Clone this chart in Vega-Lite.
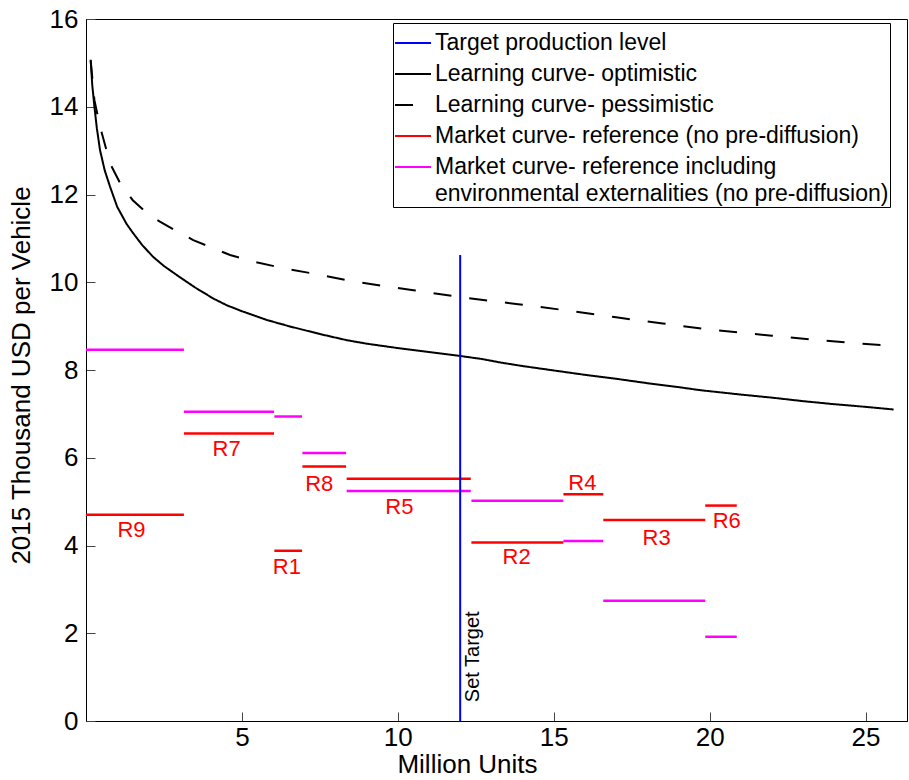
{
  "$schema": "https://vega.github.io/schema/vega-lite/v6.json",
  "width": 821,
  "height": 702,
  "autosize": {"type": "none"},
  "padding": {"left": 86, "top": 19, "right": 2, "bottom": 59},
  "background": "white",
  "config": {
    "font": "Liberation Sans",
    "view": {"stroke": "#000", "strokeWidth": 1},
    "axis": {
      "grid": false,
      "domainColor": "#000",
      "tickColor": "#444",
      "labelColor": "#000",
      "titleColor": "#000",
      "labelFontSize": 26,
      "titleFontSize": 26,
      "titleFontWeight": "normal",
      "tickSize": -9,
      "labelFlush": false
    }
  },
  "datasets": {
    "curves": [
      {"series": "Learning curve- optimistic", "x": 0.15, "y": 15.07},
      {"series": "Learning curve- optimistic", "x": 0.2, "y": 14.5},
      {"series": "Learning curve- optimistic", "x": 0.27, "y": 14.0},
      {"series": "Learning curve- optimistic", "x": 0.35, "y": 13.5},
      {"series": "Learning curve- optimistic", "x": 0.45, "y": 13.01},
      {"series": "Learning curve- optimistic", "x": 0.6, "y": 12.55},
      {"series": "Learning curve- optimistic", "x": 0.77, "y": 12.18},
      {"series": "Learning curve- optimistic", "x": 1.0, "y": 11.72},
      {"series": "Learning curve- optimistic", "x": 1.3, "y": 11.33},
      {"series": "Learning curve- optimistic", "x": 1.51, "y": 11.12},
      {"series": "Learning curve- optimistic", "x": 1.8, "y": 10.85},
      {"series": "Learning curve- optimistic", "x": 2.15, "y": 10.58},
      {"series": "Learning curve- optimistic", "x": 2.5, "y": 10.37},
      {"series": "Learning curve- optimistic", "x": 3.0, "y": 10.12},
      {"series": "Learning curve- optimistic", "x": 3.5, "y": 9.88},
      {"series": "Learning curve- optimistic", "x": 4.08, "y": 9.63},
      {"series": "Learning curve- optimistic", "x": 4.5, "y": 9.48},
      {"series": "Learning curve- optimistic", "x": 5.0, "y": 9.34},
      {"series": "Learning curve- optimistic", "x": 5.8, "y": 9.14},
      {"series": "Learning curve- optimistic", "x": 6.5, "y": 9.0},
      {"series": "Learning curve- optimistic", "x": 7.0, "y": 8.91},
      {"series": "Learning curve- optimistic", "x": 7.5, "y": 8.82},
      {"series": "Learning curve- optimistic", "x": 8.36, "y": 8.68},
      {"series": "Learning curve- optimistic", "x": 9.0, "y": 8.6},
      {"series": "Learning curve- optimistic", "x": 10.0, "y": 8.5},
      {"series": "Learning curve- optimistic", "x": 11.0, "y": 8.41},
      {"series": "Learning curve- optimistic", "x": 12.0, "y": 8.32},
      {"series": "Learning curve- optimistic", "x": 12.7, "y": 8.25},
      {"series": "Learning curve- optimistic", "x": 13.3, "y": 8.17},
      {"series": "Learning curve- optimistic", "x": 14.0, "y": 8.09},
      {"series": "Learning curve- optimistic", "x": 15.0, "y": 7.99},
      {"series": "Learning curve- optimistic", "x": 16.0, "y": 7.89},
      {"series": "Learning curve- optimistic", "x": 17.0, "y": 7.8},
      {"series": "Learning curve- optimistic", "x": 18.0, "y": 7.7},
      {"series": "Learning curve- optimistic", "x": 19.0, "y": 7.61},
      {"series": "Learning curve- optimistic", "x": 19.7, "y": 7.54},
      {"series": "Learning curve- optimistic", "x": 21.0, "y": 7.44},
      {"series": "Learning curve- optimistic", "x": 22.0, "y": 7.37},
      {"series": "Learning curve- optimistic", "x": 23.0, "y": 7.29},
      {"series": "Learning curve- optimistic", "x": 24.0, "y": 7.22},
      {"series": "Learning curve- optimistic", "x": 25.0, "y": 7.16},
      {"series": "Learning curve- optimistic", "x": 25.9, "y": 7.1},
      {"series": "Learning curve- pessimistic", "x": 0.15, "y": 15.05},
      {"series": "Learning curve- pessimistic", "x": 0.27, "y": 14.15},
      {"series": "Learning curve- pessimistic", "x": 0.45, "y": 13.55},
      {"series": "Learning curve- pessimistic", "x": 0.77, "y": 12.71},
      {"series": "Learning curve- pessimistic", "x": 1.1, "y": 12.25},
      {"series": "Learning curve- pessimistic", "x": 1.5, "y": 11.87},
      {"series": "Learning curve- pessimistic", "x": 2.0, "y": 11.55},
      {"series": "Learning curve- pessimistic", "x": 2.37, "y": 11.38},
      {"series": "Learning curve- pessimistic", "x": 3.0, "y": 11.13},
      {"series": "Learning curve- pessimistic", "x": 3.44, "y": 10.96},
      {"series": "Learning curve- pessimistic", "x": 4.0, "y": 10.8},
      {"series": "Learning curve- pessimistic", "x": 4.62, "y": 10.62},
      {"series": "Learning curve- pessimistic", "x": 5.5, "y": 10.45},
      {"series": "Learning curve- pessimistic", "x": 6.33, "y": 10.32},
      {"series": "Learning curve- pessimistic", "x": 7.5, "y": 10.17},
      {"series": "Learning curve- pessimistic", "x": 8.5, "y": 10.03},
      {"series": "Learning curve- pessimistic", "x": 9.5, "y": 9.92},
      {"series": "Learning curve- pessimistic", "x": 10.5, "y": 9.82},
      {"series": "Learning curve- pessimistic", "x": 12.0, "y": 9.66},
      {"series": "Learning curve- pessimistic", "x": 13.86, "y": 9.5},
      {"series": "Learning curve- pessimistic", "x": 15.5, "y": 9.35},
      {"series": "Learning curve- pessimistic", "x": 17.0, "y": 9.2},
      {"series": "Learning curve- pessimistic", "x": 18.5, "y": 9.06},
      {"series": "Learning curve- pessimistic", "x": 19.77, "y": 8.94},
      {"series": "Learning curve- pessimistic", "x": 21.0, "y": 8.85},
      {"series": "Learning curve- pessimistic", "x": 22.0, "y": 8.78},
      {"series": "Learning curve- pessimistic", "x": 23.22, "y": 8.7},
      {"series": "Learning curve- pessimistic", "x": 24.5, "y": 8.62},
      {"series": "Learning curve- pessimistic", "x": 25.9, "y": 8.55}
    ],
    "segments": [
      {"region": "R9", "series": "Market curve- reference (no pre-diffusion)", "x": 0, "x2": 3.14, "y": 4.7},
      {"region": "R9", "series": "Market curve- reference including environmental externalities (no pre-diffusion)", "x": 0, "x2": 3.14, "y": 8.46},
      {"region": "R7", "series": "Market curve- reference (no pre-diffusion)", "x": 3.14, "x2": 6.03, "y": 6.55},
      {"region": "R7", "series": "Market curve- reference including environmental externalities (no pre-diffusion)", "x": 3.14, "x2": 6.03, "y": 7.05},
      {"region": "R1", "series": "Market curve- reference (no pre-diffusion)", "x": 6.04, "x2": 6.93, "y": 3.88},
      {"region": "R1", "series": "Market curve- reference including environmental externalities (no pre-diffusion)", "x": 6.04, "x2": 6.93, "y": 6.94},
      {"region": "R8", "series": "Market curve- reference (no pre-diffusion)", "x": 6.94, "x2": 8.34, "y": 5.8},
      {"region": "R8", "series": "Market curve- reference including environmental externalities (no pre-diffusion)", "x": 6.94, "x2": 8.34, "y": 6.11},
      {"region": "R5", "series": "Market curve- reference (no pre-diffusion)", "x": 8.36, "x2": 12.34, "y": 5.52},
      {"region": "R5", "series": "Market curve- reference including environmental externalities (no pre-diffusion)", "x": 8.36, "x2": 12.34, "y": 5.24},
      {"region": "R2", "series": "Market curve- reference (no pre-diffusion)", "x": 12.36, "x2": 15.31, "y": 4.07},
      {"region": "R2", "series": "Market curve- reference including environmental externalities (no pre-diffusion)", "x": 12.36, "x2": 15.31, "y": 5.02},
      {"region": "R4", "series": "Market curve- reference (no pre-diffusion)", "x": 15.31, "x2": 16.59, "y": 5.17},
      {"region": "R4", "series": "Market curve- reference including environmental externalities (no pre-diffusion)", "x": 15.31, "x2": 16.59, "y": 4.1},
      {"region": "R3", "series": "Market curve- reference (no pre-diffusion)", "x": 16.59, "x2": 19.86, "y": 4.58},
      {"region": "R3", "series": "Market curve- reference including environmental externalities (no pre-diffusion)", "x": 16.59, "x2": 19.86, "y": 2.74},
      {"region": "R6", "series": "Market curve- reference (no pre-diffusion)", "x": 19.86, "x2": 20.87, "y": 4.91},
      {"region": "R6", "series": "Market curve- reference including environmental externalities (no pre-diffusion)", "x": 19.86, "x2": 20.87, "y": 1.92}
    ],
    "target": [
      {"series": "Target production level", "x": 12, "y": 0, "y2": 10.62}
    ],
    "labels": [
      {"label": "R9", "x": 1.46, "y": 4.35},
      {"label": "R7", "x": 4.51, "y": 6.2},
      {"label": "R8", "x": 7.48, "y": 5.4},
      {"label": "R5", "x": 10.05, "y": 4.88},
      {"label": "R1", "x": 6.44, "y": 3.5},
      {"label": "R2", "x": 13.81, "y": 3.74},
      {"label": "R4", "x": 15.92, "y": 5.42},
      {"label": "R3", "x": 18.3, "y": 4.18},
      {"label": "R6", "x": 20.55, "y": 4.56}
    ],
    "annot": [
      {"label": "Set Target", "x": 12, "y": 0.43}
    ]
  },
  "layer": [
    {
      "data": {"name": "curves"},
      "mark": {"type": "line", "strokeWidth": 2},
      "encoding": {
        "x": {
          "field": "x", "type": "quantitative",
          "scale": {"domain": [0, 26.33], "nice": false, "zero": false},
          "axis": {
            "title": "Million Units",
            "values": [5, 10, 15, 20, 25],
            "labelPadding": 12,
            "titleX": 381,
            "titleY": 51,
            "titleBaseline": "alphabetic"
          }
        },
        "y": {
          "field": "y", "type": "quantitative",
          "scale": {"domain": [0, 16], "nice": false},
          "axis": {
            "title": "2015 Thousand USD per Vehicle",
            "values": [0, 2, 4, 6, 8, 10, 12, 14, 16],
            "labelPadding": 17,
            "titleX": -57,
            "titleY": 356,
            "titleBaseline": "alphabetic"
          }
        },
        "color": {
          "field": "series", "type": "nominal",
          "scale": {
            "domain": ["Target production level", "Learning curve- optimistic", "Learning curve- pessimistic", "Market curve- reference (no pre-diffusion)", "Market curve- reference including environmental externalities (no pre-diffusion)"],
            "range": ["#0000ff", "#000000", "#000000", "#ff0000", "#ff00ff"]
          },
          "legend": {
            "title": null,
            "orient": "none",
            "legendX": 307,
            "legendY": 4,
            "symbolType": "stroke",
            "symbolSize": 1296,
            "symbolStrokeWidth": 2,
            "labelFontSize": 23,
            "labelColor": "#000",
            "labelLimit": 0,
            "labelOffset": 3,
            "labelBaseline": "top",
            "rowPadding": -2,
            "padding": 1,
            "fillColor": "white",
            "strokeColor": "#000",
            "labelExpr": "datum.label == 'Market curve- reference including environmental externalities (no pre-diffusion)' ? ['Market curve- reference including', 'environmental externalities (no pre-diffusion)'] : datum.label",
            "encode": {"labels": {"update": {"dy": {"value": -11}, "lineHeight": {"value": 27}}}}
          }
        },
        "strokeDash": {
          "field": "series", "type": "nominal",
          "scale": {
            "domain": ["Target production level", "Learning curve- optimistic", "Learning curve- pessimistic", "Market curve- reference (no pre-diffusion)", "Market curve- reference including environmental externalities (no pre-diffusion)"],
            "range": [[1, 0], [1, 0], [18, 18], [1, 0], [1, 0]]
          },
          "legend": {"title": null}
        }
      }
    },
    {
      "data": {"name": "segments"},
      "mark": {"type": "rule", "strokeWidth": 2.5},
      "encoding": {
        "x": {"field": "x", "type": "quantitative"},
        "x2": {"field": "x2"},
        "y": {"field": "y", "type": "quantitative"},
        "color": {"field": "series", "type": "nominal"}
      }
    },
    {
      "data": {"name": "target"},
      "mark": {"type": "rule", "strokeWidth": 2},
      "encoding": {
        "x": {"field": "x", "type": "quantitative"},
        "y": {"field": "y", "type": "quantitative"},
        "y2": {"field": "y2"},
        "color": {"field": "series", "type": "nominal"}
      }
    },
    {
      "data": {"name": "labels"},
      "mark": {"type": "text", "fontSize": 22, "color": "#ff0000", "align": "center", "baseline": "middle"},
      "encoding": {
        "x": {"field": "x", "type": "quantitative"},
        "y": {"field": "y", "type": "quantitative"},
        "text": {"field": "label"}
      }
    },
    {
      "data": {"name": "annot"},
      "mark": {"type": "text", "fontSize": 20, "color": "#000", "align": "left", "baseline": "top", "angle": 270, "dy": 3},
      "encoding": {
        "x": {"field": "x", "type": "quantitative"},
        "y": {"field": "y", "type": "quantitative"},
        "text": {"field": "label"}
      }
    }
  ]
}
